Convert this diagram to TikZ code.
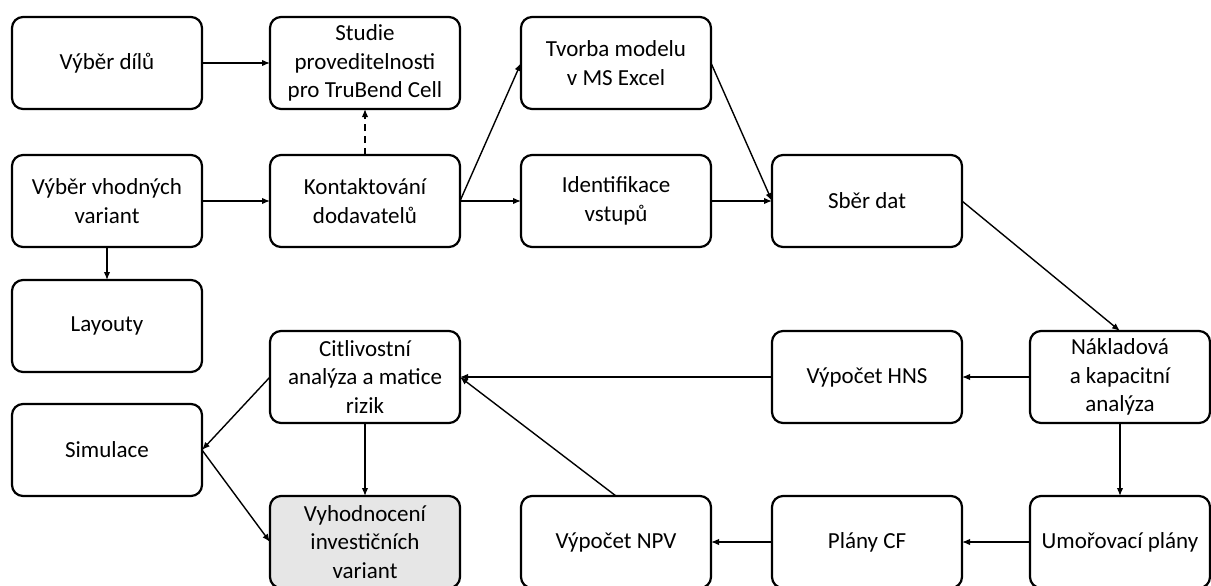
\documentclass[tikz,border=0pt]{standalone}
\usepackage{fontspec}
\setmainfont{Carlito}
\usetikzlibrary{arrows.meta}
\begin{document}
\begin{tikzpicture}[x=1pt,y=-1pt,
  box/.style={draw=black, line width=2.2pt, rounded corners=11pt, fill=white,
    minimum width=190pt, minimum height=92pt, inner sep=2pt, outer sep=0pt,
    align=center, font=\fontsize{23}{28.5}\selectfont},
  conn/.style={line width=1.4pt, -{Latex[length=8pt,width=6.5pt]}},
]
\useasboundingbox (0,0) rectangle (1211,586);
\node[box] (dily) at (107,63) {Výběr dílů};
\node[box] (studie) at (365,63) {Studie\\proveditelnosti\\pro TruBend Cell};
\node[box] (tvorba) at (616,63) {Tvorba modelu\\v MS Excel};
\node[box] (vyber) at (107,201) {Výběr vhodných\\variant};
\node[box] (kontakt) at (365,201) {Kontaktování\\dodavatelů};
\node[box] (ident) at (616,201) {Identifikace\\vstupů};
\node[box] (sber) at (867,201) {Sběr dat};
\node[box] (layout) at (107,326) {Layouty};
\node[box] (citl) at (365,377) {Citlivostní\\analýza a matice\\rizik};
\node[box] (hns) at (867,377) {Výpočet HNS};
\node[box, minimum width=180pt] (naklad) at (1120,377) {Nákladová\\a kapacitní\\analýza};
\node[box] (simul) at (107,450) {Simulace};
\node[box, fill={rgb,255:red,230;green,230;blue,230}] (vyhod) at (365,542) {Vyhodnocení\\investičních\\variant};
\node[box] (npv) at (616,542) {Výpočet NPV};
\node[box] (cf) at (867,542) {Plány CF};
\node[box, minimum width=180pt] (umor) at (1120,542) {Umořovací plány};

\draw[conn] (dily.east) -- (studie.west);
\draw[conn, dashed, dash pattern=on 7pt off 5pt] (kontakt.north) -- (studie.south);
\draw[conn] (vyber.east) -- (kontakt.west);
\draw[conn] (vyber.south) -- (layout.north);
\draw[conn] (kontakt.east) -- (ident.west);
\draw[conn] (kontakt.east) -- (tvorba.west);
\draw[conn] (tvorba.east) -- (sber.west);
\draw[conn] (ident.east) -- (sber.west);
\draw[conn] (sber.east) -- (naklad.north);
\draw[conn] (naklad.west) -- (hns.east);
\draw[conn] (hns.west) -- (citl.east);
\draw[conn] (naklad.south) -- (umor.north);
\draw[conn] (umor.west) -- (cf.east);
\draw[conn] (cf.west) -- (npv.east);
\draw[conn] (npv.north) -- (citl.east);
\draw[conn] (citl.west) -- (simul.east);
\draw[conn] (simul.east) -- (vyhod.west);
\draw[conn] (citl.south) -- (vyhod.north);
\end{tikzpicture}
\end{document}
